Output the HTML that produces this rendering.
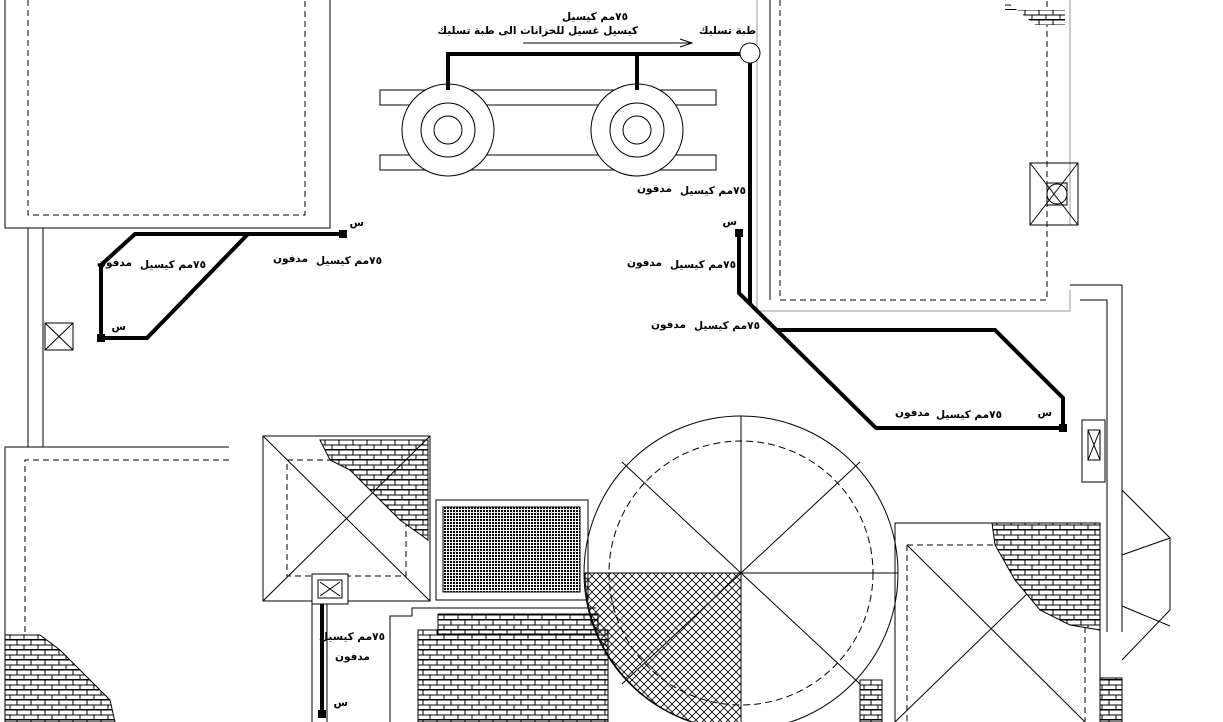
<!DOCTYPE html>
<html><head><meta charset="utf-8"><style>
html,body{margin:0;padding:0;background:#fff}
svg{display:block}
text{font-family:"DejaVu Sans",sans-serif;font-size:10.5px;font-weight:bold;fill:#000}
</style></head><body>
<svg width="1223" height="722" viewBox="0 0 1223 722" xmlns="http://www.w3.org/2000/svg">
<defs>
<pattern id="brick" width="14" height="10" patternUnits="userSpaceOnUse">
<rect width="14" height="10" fill="#fff"/>
<path d="M0 0H14M0 5H14M3 0V5M10 5V10M0 9.5H14" stroke="#000" stroke-width="1"/>
</pattern>
<pattern id="cross" width="8" height="8" patternUnits="userSpaceOnUse">
<path d="M0 0L8 8M8 0L0 8" stroke="#000" stroke-width="0.8"/>
</pattern>
<pattern id="dots" width="3" height="3" patternUnits="userSpaceOnUse">
<rect width="3" height="3" fill="#fff"/><rect width="2" height="2" fill="#000"/>
</pattern>
</defs>
<g fill="none" stroke="#000" stroke-width="1">
<path d="M5 0V228H330V0"/>
<path d="M28 0V215H305V0" stroke-dasharray="6,4"/>
<path d="M28 228V447M43 228V447"/>
<rect x="45" y="323" width="28" height="27"/>
<path d="M45 323L73 350M73 323L45 350"/>
<path d="M5 722V447H229"/>
<path d="M25 722V460H229" stroke-dasharray="6,4"/>
<path d="M5 635L40 635L60 650L90 680L110 700L115 722L5 722Z" fill="url(#brick)"/>
<rect x="380" y="90" width="336" height="15"/>
<rect x="380" y="155" width="336" height="15"/>
<circle cx="448" cy="130" r="46" fill="#fff"/><circle cx="448" cy="130" r="27"/><circle cx="448" cy="130" r="14"/>
<circle cx="637" cy="130" r="46" fill="#fff"/><circle cx="637" cy="130" r="27"/><circle cx="637" cy="130" r="14"/>
<path d="M523 43H692M680 39L692 43L680 47"/>
<path d="M757 0V311H1070V290" stroke="#999"/>
<path d="M770 0V300" />
<path d="M780 0V300H1047V0" stroke-dasharray="6,4"/>
<path d="M1070 0V225" stroke="#999"/>
<rect x="1030" y="163" width="48" height="62"/>
<rect x="1047" y="183" width="20" height="22"/>
<path d="M1030 163L1078 225M1078 163L1030 225"/>
<circle cx="1057" cy="194" r="10"/>
<path d="M1070 285H1122V632M1080 300H1107V632"/>
<rect x="1082" y="420" width="23" height="62"/>
<rect x="1088" y="430" width="12" height="30"/>
<path d="M1088 430L1100 460M1100 430L1088 460"/>
<path d="M1122 490L1170 538V610L1122 660M1122 555L1170 538M1122 606L1170 626"/>
<rect x="263" y="436" width="167" height="165"/>
<path d="M287 460H406V576H287Z" stroke-dasharray="6,4"/>
<path d="M320 440H428V540L400 520L380 500L350 470L330 460Z" fill="url(#brick)"/>
<path d="M263 436L430 601M430 436L263 601"/>
<rect x="312" y="574" width="36" height="30" fill="#fff"/>
<rect x="318" y="580" width="24" height="18"/>
<path d="M320 582L330 589L320 596M340 582L330 589L340 596"/>
<path d="M312 604V722M327 604V722" />
<rect x="436" y="500" width="152" height="100"/>
<rect x="443" y="507" width="137" height="85" fill="url(#dots)"/>
<path d="M390 722V616H412V608H596" />
<rect x="418" y="630" width="190" height="92" fill="url(#brick)"/>
<rect x="438" y="614" width="160" height="20" fill="url(#brick)"/>
<path d="M741 573L585 573A157 157 0 0 0 741 730Z" fill="url(#cross)"/>
<circle cx="741" cy="573" r="157" fill="none"/>
<circle cx="741" cy="573" r="132" stroke-dasharray="7,4"/>
<path d="M741 416V730M584 573H898M622 462L860 684M860 462L622 684"/>
<path d="M895 722V523H1100V722"/>
<path d="M907 545H1085V722" stroke-dasharray="6,4"/>
<path d="M907 545V722" stroke-dasharray="6,4"/>
<path d="M907 545L1085 722M1100 523L895 722"/>
<path d="M992 523H1100V630L1070 625L1040 610L1015 580L995 545Z" fill="url(#brick)"/>
<rect x="860" y="680" width="22" height="42" fill="url(#brick)"/>
<rect x="1100" y="678" width="22" height="44" fill="url(#brick)"/>
<path d="M1005 0V10H1065V25H1035Z" fill="url(#brick)" stroke="none"/>
</g>
<g fill="none" stroke="#000" stroke-width="4" stroke-linejoin="miter">
<path d="M343 234H135L101 265V338H147L248 234"/>
<path d="M448 90V54H744M637 54V90"/>
<path d="M750 62V305"/>
<path d="M739 233V293L876 428H1063V398L995 330H776"/>
<path d="M322 604V714"/>
</g>
<circle cx="750" cy="53" r="10" fill="#fff" stroke="#000"/>
<g fill="#000">
<rect x="339" y="230" width="8" height="8"/><rect x="97" y="334" width="8" height="8"/>
<rect x="735" y="229" width="8" height="8"/><rect x="1059" y="424" width="8" height="8"/>
<rect x="318" y="710" width="8" height="8"/>
</g>
<text x="628" y="20" text-anchor="end">٧٥مم كيسيل</text>
<text x="638" y="34" text-anchor="end">كيسيل غسيل للخزانات الى طبة تسليك</text>
<text x="756" y="34" text-anchor="end">طبة تسليك</text>
<text x="746" y="194" text-anchor="end">٧٥مم كيسيل</text>
<text x="672" y="192" text-anchor="end">مدفون</text>
<text x="737" y="225" text-anchor="end">س</text>
<text x="736" y="268" text-anchor="end">٧٥مم كيسيل</text>
<text x="662" y="266" text-anchor="end">مدفون</text>
<text x="760" y="329" text-anchor="end">٧٥مم كيسيل</text>
<text x="686" y="328" text-anchor="end">مدفون</text>
<text x="1002" y="418" text-anchor="end">٧٥مم كيسيل</text>
<text x="930" y="416" text-anchor="end">مدفون</text>
<text x="1052" y="416" text-anchor="end">س</text>
<text x="382" y="264" text-anchor="end">٧٥مم كيسيل</text>
<text x="308" y="262" text-anchor="end">مدفون</text>
<text x="364" y="226" text-anchor="end">س</text>
<text x="206" y="268" text-anchor="end">٧٥مم كيسيل</text>
<text x="132" y="266" text-anchor="end">مدفون</text>
<text x="126" y="330" text-anchor="end">س</text>
<text x="385" y="640" text-anchor="end">٧٥مم كيسيل</text>
<text x="370" y="660" text-anchor="end">مدفون</text>
<text x="348" y="706" text-anchor="end">س</text>
</svg>
</body></html>
